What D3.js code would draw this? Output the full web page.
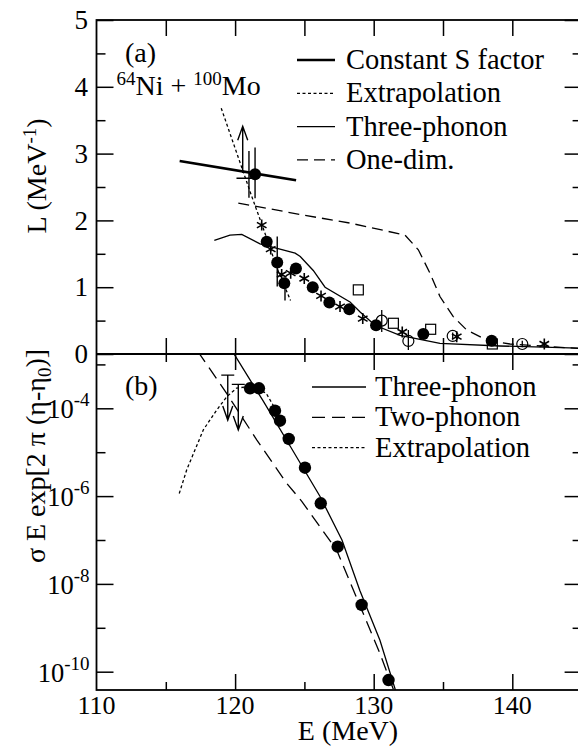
<!DOCTYPE html>
<html lang="en">
<head>
<meta charset="UTF-8">
<title>64Ni + 100Mo</title>
<script src="https://d3js.org/d3.v7.min.js"></script>
<style>
  body { margin: 0; background: #fff; }
  text { font-family: "Liberation Serif", "DejaVu Serif", serif; fill: #000; }
</style>
</head>
<body>
<script>
// ---- axes / ticks
var xMajor = [110, 120, 130, 140], xMinor = [115, 125, 135];
var lMajor = [0, 1, 2, 3, 4, 5], lMinor = [0.5, 1.5, 2.5, 3.5, 4.5];
var logMajor = [-4, -6, -8, -10], logMinor = [-3, -5, -7, -9];

// ---- panel (a): L(E)
var sFactorE = [116.0, 124.4], sFactorL = [2.89, 2.60];
var extrapAE = [119.0, 120.0, 121.2, 122.0, 123.0, 124.0];
var extrapAL = [3.68, 3.08, 2.36, 1.90, 1.30, 0.80];
var threeAE = [118.5, 119.63, 120.48, 121.8, 123.24, 124.33, 124.7, 125.64, 126.49, 128.29, 129.02, 130.09, 131.9, 134.78, 139.11, 145];
var threeAL = [1.70, 1.78, 1.79, 1.65, 1.57, 1.51, 1.46, 1.25, 1.00, 0.78, 0.63, 0.43, 0.28, 0.16, 0.12, 0.085];
var oneDimE = [120.23, 124.92, 128.29, 132.26, 133.22, 134.06, 134.78, 135.74, 136.71, 138.15, 139.83, 145];
var oneDimL = [2.26, 2.08, 1.96, 1.78, 1.56, 1.21, 0.86, 0.56, 0.36, 0.21, 0.15, 0.08];
var dotAE = [121.44, 122.28, 123.04, 123.55, 124.39, 125.60, 126.80, 128.24, 130.17, 133.58, 138.51];
var dotAL = [2.69, 1.68, 1.37, 1.06, 1.28, 1.00, 0.77, 0.67, 0.43, 0.30, 0.20];
var starE = [121.92, 122.57, 123.36, 124.01, 124.99, 126.20, 127.57, 129.21, 132.06, 135.99, 142.31];
var starL = [1.93, 1.57, 1.19, 1.21, 1.13, 0.87, 0.71, 0.53, 0.33, 0.26, 0.15];
var squareE = [128.89, 131.42, 134.11, 138.56];
var squareL = [0.96, 0.46, 0.37, 0.15];
var ringE = [130.58, 132.50, 135.70, 140.72];
var ringL = [0.50, 0.195, 0.27, 0.15];
var ringLo = [0.33, 0.06, 0.22, 0.10], ringHi = [0.66, 0.36, 0.32, 0.20];
var errAE = [121.0, 121.44, 123.04, 123.6];
var errALo = [2.34, 2.33, 1.01, 0.80], errAHi = [3.04, 3.09, 1.76, 1.06];
var xErrE = [120.1, 121.6], xErrL = 2.63;
var upArrowE = 120.55, upArrowL = [2.71, 3.41];

// ---- panel (b): sigma E exp[...]
var dotBE = [121.08, 121.72, 122.88, 123.24, 123.87, 125.04, 126.18, 127.40, 129.13, 131.07];
var dotBV = [2.86e-4, 2.86e-4, 8.81e-5, 5.22e-5, 2.0e-5, 4.44e-6, 6.85e-7, 7.03e-8, 3.31e-9, 6.46e-11];
var threeBE = [119.8, 122.0, 124.0, 126.13, 127.71, 129.0, 130.45, 131.7];
var threeBV = [2.0e-3, 1.51e-4, 1.33e-5, 9.8e-7, 1.0e-7, 7.1e-9, 5.2e-10, 2.8e-11];
var twoBE = [117.3, 119.39, 121.56, 123.7, 124.81, 127.33, 130.45, 131.6];
var twoBV = [2.0e-3, 2.19e-4, 1.91e-5, 2.0e-6, 7.6e-7, 5.9e-8, 2.6e-10, 2.8e-11];
var extrapBE = [115.97, 116.51, 117.71, 118.67, 119.39, 120.11, 121.07, 122.23, 122.88];
var extrapBV = [1.15e-6, 3.98e-6, 3.24e-5, 9.1e-5, 1.82e-4, 2.88e-4, 3.16e-4, 2.24e-4, 1.0e-4];
var limitE = [119.47, 120.23];
var limitHi = [5.7e-4, 3.5e-4], limitLo = [5.4e-5, 3.2e-5];

var W = 578, H = 746;
var pLeft = 96.5, pRight = 581.6, pTop = 20, pMid = 354, pBottom = 690;

var svg = d3.select("body").append("svg").attr("width", W).attr("height", H);

var x = d3.scaleLinear().domain([110, 145]).range([pLeft, pRight]);
var yA = d3.scaleLinear().domain([0, 5]).range([pMid, pTop]);
var yB = d3.scaleLog().domain([Math.pow(10, -10.417), Math.pow(10, -2.763)]).range([pBottom, pMid]);

var defs = svg.append("defs");
defs.append("clipPath").attr("id", "clipA").append("rect")
  .attr("x", pLeft).attr("y", pTop).attr("width", pRight - pLeft).attr("height", pMid - pTop);
defs.append("clipPath").attr("id", "clipB").append("rect")
  .attr("x", pLeft).attr("y", pMid).attr("width", pRight - pLeft).attr("height", pBottom - pMid);

function ticks(axisFn, scale, vals, len, tx, ty) {
  var g = svg.append("g").attr("transform", "translate(" + tx + "," + ty + ")")
    .call(axisFn(scale).tickValues(vals).tickSize(-len).tickFormat(""));
  g.select(".domain").remove();
  g.selectAll("text").remove();
  g.selectAll("line").attr("stroke", "#000").attr("stroke-width", 1.5);
  return g;
}

// panel a ticks
ticks(d3.axisLeft, yA, lMajor, 17, pLeft, 0);
ticks(d3.axisLeft, yA, lMinor, 9, pLeft, 0);
ticks(d3.axisRight, yA, lMajor, 17, pRight, 0);
ticks(d3.axisRight, yA, lMinor, 9, pRight, 0);
ticks(d3.axisTop, x, xMinor.concat(xMajor.slice(1)), 16, 0, pTop);
ticks(d3.axisBottom, x, xMinor.concat(xMajor.slice(1)), 16, 0, pMid);

// panel b ticks
var logVals = function (a) { return a.map(function (p) { return Math.pow(10, p); }); };
ticks(d3.axisLeft, yB, logVals(logMajor), 17, pLeft, 0);
ticks(d3.axisLeft, yB, logVals(logMinor), 9, pLeft, 0);
ticks(d3.axisRight, yB, logVals(logMajor), 17, pRight, 0);
ticks(d3.axisRight, yB, logVals(logMinor), 9, pRight, 0);
ticks(d3.axisTop, x, xMajor.slice(1), 16, 0, pMid);
ticks(d3.axisTop, x, xMinor, 8, 0, pMid);
ticks(d3.axisBottom, x, xMajor.slice(1), 16, 0, pBottom);
ticks(d3.axisBottom, x, xMinor, 8, 0, pBottom);

// frames
svg.append("rect").attr("x", pLeft).attr("y", pTop).attr("width", pRight - pLeft).attr("height", pBottom - pTop)
  .attr("fill", "none").attr("stroke", "#000").attr("stroke-width", 1.8);
svg.append("line").attr("x1", pLeft).attr("x2", pRight).attr("y1", pMid).attr("y2", pMid)
  .attr("stroke", "#000").attr("stroke-width", 1.8);

// tick labels
svg.append("g").selectAll("text").data(lMajor).enter().append("text")
  .attr("x", pLeft - 8.5).attr("y", function (d) { return yA(d); }).attr("dy", "0.34em")
  .attr("text-anchor", "end").attr("font-size", 27).text(function (d) { return d; });

var logLab = svg.append("g").selectAll("text").data(logMajor).enter().append("text")
  .attr("x", pLeft - 7).attr("y", function (d) { return yB(Math.pow(10, d)) + 10; })
  .attr("text-anchor", "end").attr("font-size", 26.5);
logLab.append("tspan").text("10");
logLab.append("tspan").attr("font-size", 19).attr("dy", -12).text(function (d) { return "-" + (-d); });

svg.append("g").selectAll("text").data(xMajor).enter().append("text")
  .attr("x", function (d) { return x(d); }).attr("y", 714)
  .attr("text-anchor", "middle").attr("font-size", 26).text(function (d) { return d; });

// axis titles
svg.append("text").attr("x", 348).attr("y", 740).attr("text-anchor", "middle")
  .attr("font-size", 28).text("E (MeV)");

var tA = svg.append("text").attr("transform", "translate(46,176) rotate(-90)")
  .attr("text-anchor", "middle").attr("font-size", 28);
tA.append("tspan").text("L (MeV");
tA.append("tspan").attr("font-size", 19).attr("dy", -10).text("-1");
tA.append("tspan").attr("dy", 10).text(")");

var tB = svg.append("text").attr("transform", "translate(45,456) rotate(-90)")
  .attr("text-anchor", "middle").attr("font-size", 28);
tB.append("tspan").text("\u03c3 E exp[2 \u03c0 (\u03b7-\u03b7");
tB.append("tspan").attr("font-size", 19).attr("dy", 6).text("0");
tB.append("tspan").attr("dy", -6).text(")]");

// panel labels
svg.append("text").attr("x", 125).attr("y", 62).attr("font-size", 28).text("(a)");
svg.append("text").attr("x", 125).attr("y", 395).attr("font-size", 28).text("(b)");
var nuc = svg.append("text").attr("x", 116.5).attr("y", 95).attr("font-size", 28);
nuc.append("tspan").attr("font-size", 19).attr("dy", -10).text("64");
nuc.append("tspan").attr("dy", 10).text("Ni + ");
nuc.append("tspan").attr("font-size", 19).attr("dy", -10).text("100");
nuc.append("tspan").attr("dy", 10).text("Mo");

// ---- panel a marks
var gA = svg.append("g").attr("clip-path", "url(#clipA)");
function lineA(es, ls) {
  return d3.line().x(function (i) { return x(es[i]); }).y(function (i) { return yA(ls[i]); })(d3.range(es.length));
}
function lineB(es, vs) {
  return d3.line().x(function (i) { return x(es[i]); }).y(function (i) { return yB(vs[i]); })(d3.range(es.length));
}
gA.append("path").attr("d", lineA(threeAE, threeAL)).attr("fill", "none").attr("stroke", "#000").attr("stroke-width", 1.3);
gA.append("path").attr("d", lineA(oneDimE, oneDimL)).attr("fill", "none").attr("stroke", "#000").attr("stroke-width", 1.3)
  .attr("stroke-dasharray", "11,6");
gA.append("path").attr("d", lineA(extrapAE, extrapAL)).attr("fill", "none").attr("stroke", "#000").attr("stroke-width", 1.3)
  .attr("stroke-dasharray", "3,2.5");
gA.append("path").attr("d", lineA(sFactorE, sFactorL)).attr("fill", "none").attr("stroke", "#000").attr("stroke-width", 2.6);

// error bars
errAE.forEach(function (e, i) {
  gA.append("line").attr("x1", x(e)).attr("x2", x(e)).attr("y1", yA(errALo[i])).attr("y2", yA(errAHi[i]))
    .attr("stroke", "#000").attr("stroke-width", 1.4);
});
gA.append("line").attr("x1", x(xErrE[0])).attr("x2", x(xErrE[1])).attr("y1", yA(xErrL)).attr("y2", yA(xErrL))
  .attr("stroke", "#000").attr("stroke-width", 1.4);
ringE.forEach(function (e, i) {
  gA.append("line").attr("x1", x(e)).attr("x2", x(e)).attr("y1", yA(ringLo[i])).attr("y2", yA(ringHi[i]))
    .attr("stroke", "#000").attr("stroke-width", 1.3);
});

// up arrow
var ax = x(upArrowE), ay0 = yA(upArrowL[0]), ay1 = yA(upArrowL[1]);
gA.append("path").attr("d", "M" + ax + "," + ay0 + "V" + ay1 + "M" + (ax - 5) + "," + (ay1 + 14) + "L" + ax + "," + ay1 + "L" + (ax + 5) + "," + (ay1 + 14))
  .attr("fill", "none").attr("stroke", "#000").attr("stroke-width", 1.4);

gA.selectAll(".sq").data(d3.range(squareE.length)).enter().append("rect")
  .attr("x", function (i) { return x(squareE[i]) - 5; }).attr("y", function (i) { return yA(squareL[i]) - 5; })
  .attr("width", 10).attr("height", 10).attr("fill", "none").attr("stroke", "#000").attr("stroke-width", 1.2);
gA.selectAll(".ring").data(d3.range(ringE.length)).enter().append("circle")
  .attr("cx", function (i) { return x(ringE[i]); }).attr("cy", function (i) { return yA(ringL[i]); })
  .attr("r", 5.5).attr("fill", "none").attr("stroke", "#000").attr("stroke-width", 1.2);
var star = "M0,-5.5V5.5M-4.8,-2.75L4.8,2.75M-4.8,2.75L4.8,-2.75";
gA.selectAll(".star").data(d3.range(starE.length)).enter().append("path")
  .attr("transform", function (i) { return "translate(" + x(starE[i]) + "," + yA(starL[i]) + ")"; })
  .attr("d", star).attr("fill", "none").attr("stroke", "#000").attr("stroke-width", 1.6);
gA.selectAll(".dot").data(d3.range(dotAE.length)).enter().append("circle")
  .attr("cx", function (i) { return x(dotAE[i]); }).attr("cy", function (i) { return yA(dotAL[i]); })
  .attr("r", 6).attr("fill", "#000");

// ---- panel b marks
var gB = svg.append("g").attr("clip-path", "url(#clipB)");
gB.append("path").attr("d", lineB(threeBE, threeBV)).attr("fill", "none").attr("stroke", "#000").attr("stroke-width", 1.3);
gB.append("path").attr("d", lineB(twoBE, twoBV)).attr("fill", "none").attr("stroke", "#000").attr("stroke-width", 1.3)
  .attr("stroke-dasharray", "13,7");
gB.append("path").attr("d", lineB(extrapBE, extrapBV)).attr("fill", "none").attr("stroke", "#000").attr("stroke-width", 1.3)
  .attr("stroke-dasharray", "3,2.5");
limitE.forEach(function (e, i) {
  var lx = x(e), y0 = yB(limitHi[i]), y1 = yB(limitLo[i]);
  gB.append("path").attr("d", "M" + (lx - 6.5) + "," + y0 + "H" + (lx + 6.5) + "M" + lx + "," + y0 + "V" + y1 +
      "M" + (lx - 5) + "," + (y1 - 14) + "L" + lx + "," + y1 + "L" + (lx + 5) + "," + (y1 - 14))
    .attr("fill", "none").attr("stroke", "#000").attr("stroke-width", 1.4);
});
gB.selectAll(".dot").data(d3.range(dotBE.length)).enter().append("circle")
  .attr("cx", function (i) { return x(dotBE[i]); }).attr("cy", function (i) { return yB(dotBV[i]); })
  .attr("r", 6.2).attr("fill", "#000");

// ---- legends
var legA = [
  { label: "Constant S factor", w: 2.6, dash: null },
  { label: "Extrapolation", w: 1.3, dash: "3,2.5" },
  { label: "Three-phonon", w: 1.3, dash: null },
  { label: "One-dim.", w: 1.3, dash: "11,6" }
];
legA.forEach(function (d, i) {
  var yy = 60 + i * 33.3;
  svg.append("line").attr("x1", 297).attr("x2", 335).attr("y1", yy).attr("y2", yy)
    .attr("stroke", "#000").attr("stroke-width", d.w).attr("stroke-dasharray", d.dash);
  svg.append("text").attr("x", 346).attr("y", yy + 9).attr("font-size", 28.5).text(d.label);
});
var legB = [
  { label: "Three-phonon", dash: null },
  { label: "Two-phonon", dash: "13,7" },
  { label: "Extrapolation", dash: "3,2.5" }
];
legB.forEach(function (d, i) {
  var yy = 387 + i * 30.3;
  svg.append("line").attr("x1", 312).attr("x2", 366).attr("y1", yy).attr("y2", yy)
    .attr("stroke", "#000").attr("stroke-width", 1.3).attr("stroke-dasharray", d.dash);
  svg.append("text").attr("x", 375).attr("y", yy + 9).attr("font-size", 28.5).text(d.label);
});
</script>
</body>
</html>
